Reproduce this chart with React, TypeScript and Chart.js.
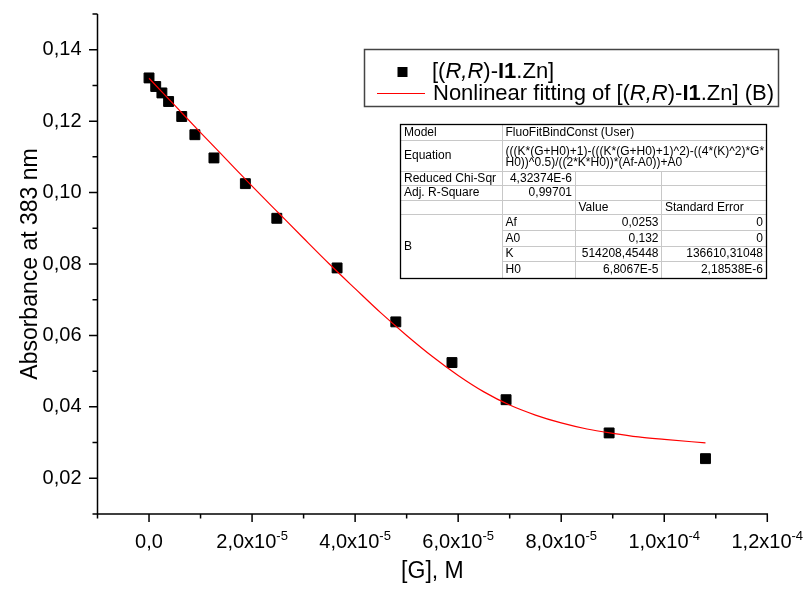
import React, { useEffect, useRef } from 'react';
import { Chart, registerables } from 'chart.js';

Chart.register(...registerables);

// ---------------- data ----------------
const dataG = [0, 1.3e-6, 2.5e-6, 3.8e-6, 6.35e-6, 8.9e-6, 12.6e-6, 18.7e-6, 24.8e-6, 36.5e-6, 47.9e-6, 58.8e-6, 69.3e-6, 89.3e-6, 108.0e-6];
const dataA = [0.1321, 0.1297, 0.1279, 0.1255, 0.1213, 0.1162, 0.1097, 0.1025, 0.0928, 0.0789, 0.0638, 0.0524, 0.042, 0.0327, 0.0255];

const fitG = [0, 5e-6, 10e-6, 15e-6, 20e-6, 25e-6, 30e-6, 35e-6, 40e-6, 45e-6, 50e-6, 55e-6, 60e-6, 65e-6, 70e-6, 75e-6, 80e-6, 85e-6, 90e-6, 95e-6, 100e-6, 108e-6];
const fitA = [0.132, 0.1244, 0.1168, 0.1093, 0.1018, 0.0945, 0.0872, 0.08, 0.0731, 0.0663, 0.06, 0.0541, 0.0488, 0.0442, 0.0405, 0.0377, 0.0355, 0.0338, 0.0326, 0.0316, 0.0309, 0.0299];

const seriesLabels = ['[(R,R)-I1.Zn]', 'Nonlinear fitting of [(R,R)-I1.Zn] (B)'];
const xTitle = '[G], M';
const yTitle = 'Absorbance at 383 nm';

const X_MIN = -1e-5;
const X_MAX = 1.2e-4;
const X_STEP = 1e-5;
const Y_MIN = 0.01;
const Y_MAX = 0.15;
const Y_STEP = 0.01;

// fit report table
const tableModel = 'FluoFitBindConst (User)';
const tableEquation = ['(((K*(G+H0)+1)-(((K*(G+H0)+1)^2)-((4*(K)^2)*G*', 'H0))^0.5)/((2*K*H0))*(Af-A0))+A0'];
const tableChiSqr = '4,32374E-6';
const tableAdjR2 = '0,99701';
const paramNames = ['Af', 'A0', 'K', 'H0'];
const paramValues = ['0,0253', '0,132', '514208,45448', '6,8067E-5'];
const paramErrors = ['0', '0', '136610,31048', '2,18538E-6'];

// ---------------- style/layout ----------------
const W = 806;
const H = 595;
const FONT = '"Liberation Sans", Arial, Helvetica, sans-serif';
const PLOT_LEFT = 97.5;
const PLOT_TOP = 14;
const PLOT_RIGHT = 767.3;
const PLOT_BOTTOM = 514;

type Part = { t: string; s?: string };

function drawRich(ctx: CanvasRenderingContext2D, parts: Part[], x: number, y: number, size: number) {
  let cx = x;
  for (const p of parts) {
    ctx.font = `${p.s || ''} ${size}px ${FONT}`.trim();
    ctx.fillText(p.t, cx, y);
    cx += ctx.measureText(p.t).width;
  }
}

function richLabel(prefix: string, suffix: string): Part[] {
  return [
    { t: prefix + '[(' },
    { t: 'R,R', s: 'italic' },
    { t: ')-' },
    { t: 'I1', s: 'bold' },
    { t: '.Zn]' + suffix },
  ];
}

function drawTable(ctx: CanvasRenderingContext2D) {
  const X = [400.5, 502.5, 575.5, 661.5, 766.5];
  const Y = [124.5, 140.5, 171.5, 185.5, 200.5, 214.5, 230.5, 246.5, 261.5, 278.5];
  const mid = (i: number) => (Y[i] + Y[i + 1]) / 2;
  ctx.save();
  ctx.fillStyle = '#ffffff';
  ctx.fillRect(X[0], Y[0], X[4] - X[0], Y[9] - Y[0]);
  ctx.strokeStyle = '#c8c8c8';
  ctx.lineWidth = 1;
  ctx.beginPath();
  for (let i = 1; i <= 5; i++) {
    ctx.moveTo(X[0], Y[i]);
    ctx.lineTo(X[4], Y[i]);
  }
  for (let i = 6; i <= 8; i++) {
    ctx.moveTo(X[1], Y[i]);
    ctx.lineTo(X[4], Y[i]);
  }
  ctx.moveTo(X[1], Y[0]);
  ctx.lineTo(X[1], Y[9]);
  ctx.moveTo(X[2], Y[2]);
  ctx.lineTo(X[2], Y[9]);
  ctx.moveTo(X[3], Y[2]);
  ctx.lineTo(X[3], Y[9]);
  ctx.stroke();
  ctx.strokeStyle = '#000';
  ctx.lineWidth = 1.3;
  ctx.strokeRect(X[0], Y[0], X[4] - X[0], Y[9] - Y[0]);

  ctx.fillStyle = '#000';
  ctx.font = `12px ${FONT}`;
  ctx.textBaseline = 'middle';
  ctx.textAlign = 'left';
  ctx.fillText('Model', 404, mid(0));
  ctx.fillText(tableModel, 505.5, mid(0));
  ctx.fillText('Equation', 404, mid(1));
  ctx.fillText(tableEquation[0], 505.5, mid(1) - 4.5);
  ctx.fillText(tableEquation[1], 505.5, mid(1) + 6.5);
  ctx.fillText('Reduced Chi-Sqr', 404, mid(2));
  ctx.fillText('Adj. R-Square', 404, mid(3));
  ctx.fillText('Value', 578.5, mid(4));
  ctx.fillText('Standard Error', 665, mid(4));
  ctx.fillText('B', 404, (Y[5] + Y[9]) / 2);
  for (let i = 0; i < paramNames.length; i++) {
    ctx.textAlign = 'left';
    ctx.fillText(paramNames[i], 505.5, mid(5 + i));
    ctx.textAlign = 'right';
    ctx.fillText(paramValues[i], 658.5, mid(5 + i));
    ctx.fillText(paramErrors[i], 763, mid(5 + i));
  }
  ctx.textAlign = 'right';
  ctx.fillText(tableChiSqr, 572, mid(2));
  ctx.fillText(tableAdjR2, 572, mid(3));
  ctx.restore();
}

const decorPlugin = {
  id: 'decor',
  afterDraw(chart: any) {
    const ctx: CanvasRenderingContext2D = chart.ctx;
    const { left, right, top, bottom } = chart.chartArea;
    const xs = chart.scales.x;
    const ys = chart.scales.y;
    ctx.save();
    ctx.strokeStyle = '#000';
    ctx.lineWidth = 1.5;
    ctx.beginPath();
    ctx.moveTo(left, top);
    ctx.lineTo(left, bottom);
    ctx.moveTo(left - 0.75, bottom);
    ctx.lineTo(right + 0.75, bottom);
    // x ticks
    xs.ticks.forEach((t: any) => {
      const n = Math.round(t.value / X_STEP);
      const px = xs.getPixelForValue(t.value);
      const len = n % 2 === 0 ? 8 : 4.5;
      ctx.moveTo(px, bottom);
      ctx.lineTo(px, bottom + len);
    });
    // y ticks
    ys.ticks.forEach((t: any) => {
      const n = Math.round(t.value / Y_STEP);
      const py = ys.getPixelForValue(t.value);
      const len = n % 2 === 0 ? 8.5 : 5;
      ctx.moveTo(left, py);
      ctx.lineTo(left - len, py);
    });
    ctx.stroke();

    // x tick labels with superscript exponents
    ctx.fillStyle = '#000';
    ctx.textBaseline = 'alphabetic';
    ctx.textAlign = 'left';
    xs.ticks.forEach((t: any) => {
      const n = Math.round(t.value / X_STEP);
      if (n % 2 !== 0 || n < 0) return;
      const px = xs.getPixelForValue(t.value);
      let main = '0,0';
      let sup = '';
      if (n > 0 && n < 10) {
        main = `${n},0x10`;
        sup = '-5';
      } else if (n >= 10) {
        main = `${Math.floor(n / 10)},${n % 10}x10`;
        sup = '-4';
      }
      ctx.font = `20px ${FONT}`;
      const mw = ctx.measureText(main).width;
      ctx.font = `13px ${FONT}`;
      const sw = sup ? ctx.measureText(sup).width : 0;
      const x0 = px - (mw + sw) / 2;
      ctx.font = `20px ${FONT}`;
      ctx.fillText(main, x0, 547.5);
      if (sup) {
        ctx.font = `13px ${FONT}`;
        ctx.fillText(sup, x0 + mw, 539.5);
      }
    });

    // axis titles
    ctx.font = `23px ${FONT}`;
    ctx.textAlign = 'center';
    ctx.fillText(xTitle, (left + right) / 2, 578);
    ctx.save();
    ctx.font = `23px ${FONT}`;
    ctx.translate(37, (top + bottom) / 2);
    ctx.rotate(-Math.PI / 2);
    ctx.fillText(yTitle, 0, 0);
    ctx.restore();

    // legend
    ctx.fillStyle = '#fff';
    ctx.fillRect(364.5, 49.5, 414, 57);
    ctx.strokeStyle = '#444';
    ctx.lineWidth = 1.5;
    ctx.strokeRect(364.5, 49.5, 414, 57);
    ctx.fillStyle = '#000';
    ctx.fillRect(397.5, 67, 10, 10);
    ctx.strokeStyle = '#ff0000';
    ctx.lineWidth = 1.2;
    ctx.beginPath();
    ctx.moveTo(377, 93.5);
    ctx.lineTo(425, 93.5);
    ctx.stroke();
    ctx.fillStyle = '#000';
    ctx.textAlign = 'left';
    ctx.textBaseline = 'middle';
    drawRich(ctx, richLabel('', ''), 432, 72, 22);
    drawRich(ctx, richLabel('Nonlinear fitting of ', ' (B)'), 433, 94, 22);

    drawTable(ctx);
    ctx.restore();
  },
};

export default function App() {
  const ref = useRef<HTMLCanvasElement | null>(null);
  useEffect(() => {
    const canvas = ref.current;
    if (!canvas) return;
    const chart = new Chart(canvas, {
      type: 'scatter',
      data: {
        datasets: [
          {
            label: seriesLabels[1],
            data: fitG.map((g, i) => ({ x: g, y: fitA[i] })),
            showLine: true,
            borderColor: '#ff0000',
            borderWidth: 1.2,
            pointRadius: 0,
            cubicInterpolationMode: 'monotone',
            fill: false,
            order: 0,
          } as any,
          {
            label: seriesLabels[0],
            data: dataG.map((g, i) => ({ x: g, y: dataA[i] })),
            showLine: false,
            pointStyle: 'rect',
            pointRadius: 7,
            backgroundColor: '#000',
            borderColor: '#000',
            borderWidth: 1,
            order: 1,
          } as any,
        ],
      },
      options: {
        animation: false,
        responsive: false,
        devicePixelRatio: 1,
        events: [],
        layout: { padding: { left: 0, top: PLOT_TOP, right: W - PLOT_RIGHT, bottom: 0 } },
        plugins: { legend: { display: false }, tooltip: { enabled: false } },
        scales: {
          x: {
            type: 'linear',
            min: X_MIN,
            max: X_MAX,
            grid: { display: false },
            border: { display: false },
            ticks: { display: false, stepSize: X_STEP, autoSkip: false, maxRotation: 0 },
            afterFit: (s: any) => {
              s.height = H - PLOT_BOTTOM;
              s.paddingLeft = 0;
              s.paddingRight = 0;
            },
          },
          y: {
            type: 'linear',
            min: Y_MIN,
            max: Y_MAX,
            grid: { display: false },
            border: { display: false },
            ticks: {
              stepSize: Y_STEP,
              autoSkip: false,
              padding: 8,
              color: '#000',
              font: { family: FONT, size: 20 },
              callback: (v: any) => {
                const k = Math.round(Number(v) * 100);
                return k % 2 === 0 ? '0,' + String(k).padStart(2, '0') : '';
              },
            },
            afterFit: (s: any) => {
              s.width = PLOT_LEFT;
              s.paddingTop = 0;
              s.paddingBottom = 0;
            },
          },
        },
      } as any,
      plugins: [decorPlugin],
    });
    return () => chart.destroy();
  }, []);
  return (
    <div style={{ position: 'fixed', left: 0, top: 0, width: W, height: H, background: '#fff' }}>
      <canvas ref={ref} width={W} height={H} style={{ display: 'block', width: W, height: H }} />
    </div>
  );
}
